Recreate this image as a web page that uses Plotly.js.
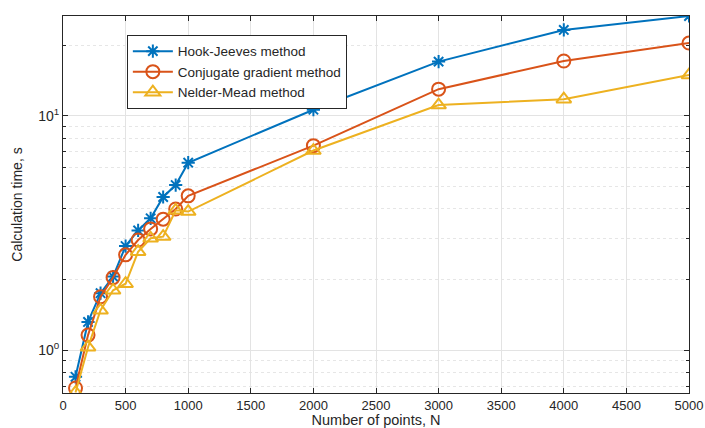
<!DOCTYPE html>
<html>
<head>
<meta charset="utf-8">
<script src="https://cdn.plot.ly/plotly-3.0.1.min.js"></script>
<style>html,body{margin:0;padding:0;background:#fff;}#chart{width:705px;height:428px;}</style>
</head>
<body>
<div id="chart"></div>
<script>
// Data
const N = [100, 200, 300, 400, 500, 600, 700, 800, 900, 1000, 2000, 3000, 4000, 5000];
const hookJeeves = [0.77, 1.32, 1.75, 2.06, 2.78, 3.24, 3.65, 4.5, 5.06, 6.3, 10.6, 17.0, 23.2, 26.6];
const conjugateGradient = [0.69, 1.16, 1.69, 2.04, 2.55, 2.95, 3.29, 3.62, 4.0, 4.55, 7.45, 12.97, 17.1, 20.4];
const nelderMead = [0.66, 1.03, 1.48, 1.8, 1.92, 2.63, 3.0, 3.05, 3.95, 3.9, 7.1, 11.1, 11.75, 14.9];
const seriesNames = ['Hook-Jeeves method', 'Conjugate gradient method', 'Nelder-Mead method'];
const yTickVals = [1, 10];
const yTickText = ['10<sup>0</sup>', '10<sup>1</sup>'];
const yMinorVals = [0.7, 0.8, 0.9, 2, 3, 4, 5, 6, 7, 8, 9, 20];

const FONT = 'Liberation Sans, Arial, Helvetica, sans-serif';
const TXT = '#262626';

const traces = [
  {x: N, y: hookJeeves, name: seriesNames[0], type: 'scatter', mode: 'lines+markers',
   line: {color: '#0072BD', width: 2},
   marker: {symbol: 'asterisk-open', size: 11, color: '#0072BD', line: {color: '#0072BD', width: 2}}},
  {x: N, y: conjugateGradient, name: seriesNames[1], type: 'scatter', mode: 'lines+markers',
   line: {color: '#D95319', width: 2},
   marker: {symbol: 'circle-open', size: 13, color: '#D95319', line: {color: '#D95319', width: 2}}},
  {x: N, y: nelderMead, name: seriesNames[2], type: 'scatter', mode: 'lines+markers',
   line: {color: '#EDB120', width: 2},
   marker: {symbol: 'triangle-up-open', size: 13, color: '#EDB120', line: {color: '#EDB120', width: 2}}}
];

const layout = {
  width: 705, height: 428,
  margin: {l: 63, r: 16, t: 16, b: 35},
  paper_bgcolor: '#fff', plot_bgcolor: '#fff',
  font: {family: FONT, color: TXT, size: 14},
  showlegend: true,
  legend: {
    x: 0.102, y: 0.95, xanchor: 'left', yanchor: 'top',
    bgcolor: '#fff', bordercolor: '#262626', borderwidth: 1,
    font: {family: FONT, size: 13.5, color: TXT},
    tracegroupgap: 0, itemwidth: 40
  },
  xaxis: {
    range: [0, 5000], tick0: 0, dtick: 500,
    ticks: 'inside', ticklen: 5, tickcolor: TXT, mirror: 'ticks',
    showline: true, linecolor: TXT, linewidth: 1,
    showgrid: true, gridcolor: '#e3e3e3', zeroline: false,
    tickfont: {family: FONT, size: 13, color: TXT},
    title: {text: 'Number of points, N', font: {family: FONT, size: 14.5, color: TXT}, standoff: 9}
  },
  yaxis: {
    type: 'log', range: [Math.log10(0.657), Math.log10(26.6)],
    tickmode: 'array', tickvals: yTickVals, ticktext: yTickText,
    ticks: 'inside', ticklen: 5, tickcolor: TXT, mirror: 'ticks',
    showline: true, linecolor: TXT, linewidth: 1,
    showgrid: true, gridcolor: '#e3e3e3', zeroline: false,
    tickfont: {family: FONT, size: 14, color: TXT},
    minor: {tickmode: 'array', tickvals: yMinorVals, ticks: 'inside', ticklen: 3, tickcolor: TXT,
            showgrid: true, gridcolor: '#e6e6e6', griddash: 'dot', gridwidth: 1},
    title: {text: 'Calculation time, s', font: {family: FONT, size: 14, color: TXT}, standoff: 12}
  }
};

Plotly.newPlot('chart', traces, layout, {displayModeBar: false, staticPlot: true});
</script>
</body>
</html>
